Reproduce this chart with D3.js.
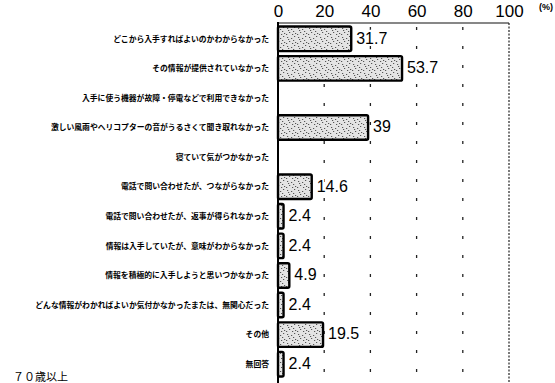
<!DOCTYPE html>
<html>
<head>
<meta charset="utf-8">
<script src="https://cdn.jsdelivr.net/npm/d3@7"></script>
<style>
  html, body { margin: 0; padding: 0; background: #fff; }
  svg { display: block; }
</style>
</head>
<body>
<svg id="chart"></svg>
<script>
// ── DATA ────────────────────────────────────────────────────────────────
const categories = [
  "どこから入手すればよいのかわからなかった",
  "その情報が提供されていなかった",
  "入手に使う機器が故障・停電などで利用できなかった",
  "激しい風雨やヘリコプターの音がうるさくて聞き取れなかった",
  "寝ていて気がつかなかった",
  "電話で問い合わせたが、つながらなかった",
  "電話で問い合わせたが、返事が得られなかった",
  "情報は入手していたが、意味がわからなかった",
  "情報を積極的に入手しようと思いつかなかった",
  "どんな情報がわかればよいか気付かなかったまたは、無関心だった",
  "その他",
  "無回答"
];
const values = [31.7, 53.7, null, 39, null, 14.6, 2.4, 2.4, 4.9, 2.4, 19.5, 2.4];
const tickValues = [0, 20, 40, 60, 80, 100];
const gridValues = [20, 40, 60, 80];

const rows = categories.map((c, i) => ({ cat: c, value: values[i] }));

// ── DIMENSIONS ──────────────────────────────────────────────────────────
const W = 555, H = 383;
const svg = d3.select("#chart").attr("width", W).attr("height", H);

const x = d3.scaleLinear().domain([0, 100]).range([278, 509]);
const y = d3.scaleBand().domain(categories).range([21.5, 381.5]).padding(0.17);

// ── TEXTURE FOR BARS ────────────────────────────────────────────────────
const defs = svg.append("defs");
const pat = defs.append("pattern")
  .attr("id", "speckle")
  .attr("patternUnits", "userSpaceOnUse")
  .attr("width", 11).attr("height", 9);
pat.append("rect").attr("width", 11).attr("height", 9).attr("fill", "#e4e4e4");
[[1,1],[5,2],[8,0],[3,5],[9,6],[6,7],[0,7],[7,4],[2,3]].forEach(([px, py]) => {
  pat.append("rect").attr("x", px).attr("y", py)
    .attr("width", 1.2).attr("height", 1).attr("fill", "#555");
});

// ── FRAME & GRID ────────────────────────────────────────────────────────
const plotTop = 23, plotBottom = H + 5;

svg.append("g")
  .selectAll("line")
  .data(gridValues)
  .join("line")
    .attr("x1", d => x(d)).attr("x2", d => x(d))
    .attr("y1", plotTop + 4).attr("y2", plotBottom)
    .attr("stroke", "#222")
    .attr("stroke-width", 1.3)
    .attr("stroke-dasharray", "3,16");

// right border at 100
svg.append("line")
  .attr("x1", x(100)).attr("x2", x(100))
  .attr("y1", plotTop).attr("y2", plotBottom)
  .attr("stroke", "#333")
  .attr("stroke-width", 1.3)
  .attr("stroke-dasharray", "2,1.5");

// top border
svg.append("line")
  .attr("x1", x(0)).attr("x2", x(100))
  .attr("y1", plotTop).attr("y2", plotTop)
  .attr("stroke", "#111").attr("stroke-width", 1.2);

// ── TOP AXIS ────────────────────────────────────────────────────────────
svg.append("g")
  .attr("transform", `translate(0,${plotTop})`)
  .call(d3.axisTop(x).tickValues(tickValues).tickSize(0).tickPadding(6))
  .call(ax => ax.select(".domain").remove())
  .call(ax => ax.selectAll(".tick text")
    .style("font-family", "'Liberation Sans', Arial, sans-serif")
    .style("font-size", "17px")
    .style("fill", "#000"));

svg.append("text")
  .attr("x", 539).attr("y", 10)
  .style("font-family", "'Liberation Sans', Arial, sans-serif")
  .style("font-size", "9px")
  .style("font-weight", "700")
  .text("(%)");

// ── BARS ────────────────────────────────────────────────────────────────
const barData = rows.filter(d => d.value != null);

svg.append("g")
  .selectAll("rect")
  .data(barData)
  .join("rect")
    .attr("x", x(0))
    .attr("y", d => y(d.cat))
    .attr("width", d => x(d.value) - x(0))
    .attr("height", y.bandwidth())
    .attr("rx", 1.5)
    .attr("fill", "url(#speckle)")
    .attr("stroke", "#000")
    .attr("stroke-width", 2.4);

// left axis line
svg.append("line")
  .attr("x1", x(0)).attr("x2", x(0))
  .attr("y1", plotTop - 1).attr("y2", plotBottom)
  .attr("stroke", "#000").attr("stroke-width", 2);

// ── VALUE LABELS (white halo hides grid behind them) ────────────────────
svg.append("g")
  .selectAll("text")
  .data(barData)
  .join("text")
    .attr("x", d => x(d.value) + 5)
    .attr("y", d => y(d.cat) + y.bandwidth() / 2)
    .attr("dy", "0.3em")
    .style("font-family", "'Liberation Sans', Arial, sans-serif")
    .style("font-size", "16px")
    .style("fill", "#000")
    .style("stroke", "#fff")
    .style("stroke-width", "4px")
    .style("paint-order", "stroke")
    .text(d => d.value);

// ── CATEGORY LABELS ─────────────────────────────────────────────────────
svg.append("g")
  .selectAll("text")
  .data(rows)
  .join("text")
    .attr("x", 269)
    .attr("y", d => y(d.cat) + y.bandwidth() / 2)
    .attr("dy", "0.35em")
    .attr("text-anchor", "end")
    .style("font-family", "'Noto Sans CJK JP', sans-serif")
    .style("font-size", "7.8px")
    .style("font-weight", "700")
    .style("fill", "#000")
    .text(d => d.cat);

// ── CAPTION AT BOTTOM ───────────────────────────────────────────────────
svg.append("text")
  .attr("x", 13).attr("y", 381)
  .style("font-family", "'Noto Sans CJK JP', sans-serif")
  .style("font-size", "11px")
  .style("fill", "#000")
  .text("７０歳以上");
</script>
</body>
</html>
